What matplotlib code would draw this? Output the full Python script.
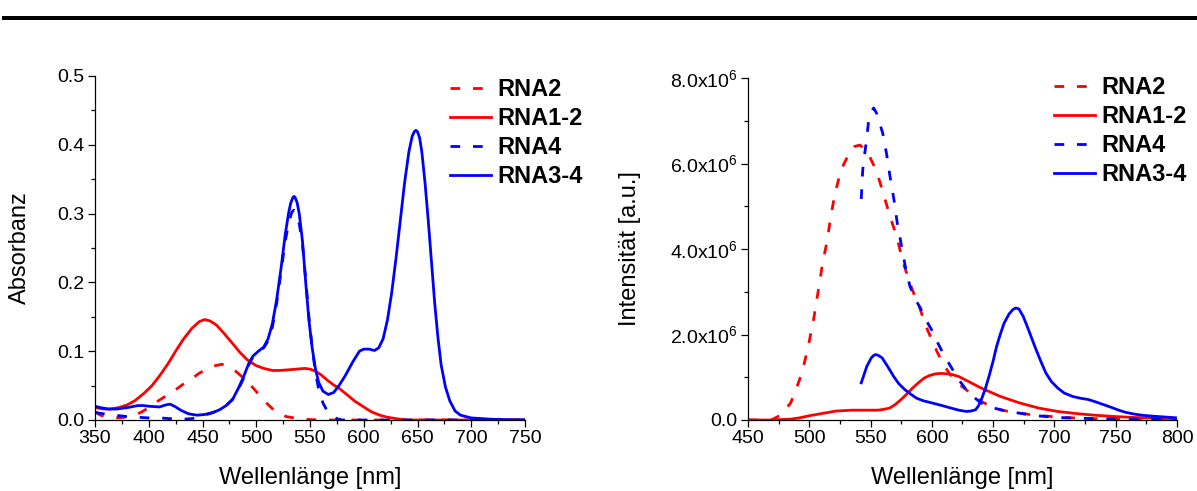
import numpy as np
import matplotlib
matplotlib.use("Agg")
import matplotlib.pyplot as plt
from matplotlib.patches import Rectangle
from matplotlib.ticker import MultipleLocator, FuncFormatter

plt.rcParams["font.family"] = ["Liberation Sans", "DejaVu Sans"]

RED = "#FF0000"
BLUE = "#0000FF"

# ---------------- absorption spectra ----------------
abs_rna2_wl = [350, 355, 362, 372, 382, 390, 396, 402, 410, 418, 425, 432, 440, 447, 455,
               462, 468, 474, 480, 486, 492, 498, 504, 510, 516, 522, 528, 535, 545, 560, 750]
abs_rna2 = [0.012, 0.007, 0.004, 0.003, 0.005, 0.009, 0.014, 0.021, 0.029, 0.037, 0.044,
            0.052, 0.060, 0.068, 0.075, 0.079, 0.081, 0.078, 0.072, 0.064, 0.055, 0.045,
            0.034, 0.024, 0.015, 0.009, 0.005, 0.003, 0.001, 0.000, 0.000]

abs_rna12_wl = [350, 358, 365, 372, 380, 387, 395, 403, 410, 418, 425, 432, 440, 447, 452,
                457, 463, 470, 477, 485, 492, 500, 507, 515, 522, 530, 538, 545, 550, 555,
                560, 566, 572, 578, 585, 592, 600, 607, 615, 622, 630, 640, 750]
abs_rna12 = [0.018, 0.016, 0.016, 0.018, 0.022, 0.028, 0.038, 0.050, 0.064, 0.082, 0.100,
             0.117, 0.133, 0.143, 0.146, 0.144, 0.138, 0.126, 0.113, 0.098, 0.087, 0.079,
             0.075, 0.072, 0.072, 0.073, 0.074, 0.075, 0.074, 0.071, 0.066, 0.058, 0.051,
             0.045, 0.036, 0.027, 0.019, 0.012, 0.007, 0.004, 0.002, 0.000, 0.000]

abs_rna4_wl = [350, 358, 368, 380, 390, 400, 410, 420, 430, 440, 450, 460, 466, 472, 478,
               483, 488, 493, 497, 502, 507, 511, 515, 519, 523, 527, 530, 533, 535, 537,
               540, 543, 546, 549, 552, 555, 558, 562, 566, 570, 575, 580, 750]
abs_rna4 = [0.011, 0.009, 0.007, 0.005, 0.004, 0.003, 0.003, 0.002, 0.001, 0.002, 0.006,
            0.011, 0.015, 0.021, 0.030, 0.043, 0.060, 0.080, 0.092, 0.100, 0.105, 0.115,
            0.135, 0.170, 0.215, 0.260, 0.285, 0.302, 0.305, 0.300, 0.285, 0.255, 0.205,
            0.150, 0.105, 0.070, 0.045, 0.025, 0.013, 0.007, 0.002, 0.000, 0.000]

abs_rna34_wl = [350, 355, 362, 370, 380, 390, 395, 400, 410, 416, 420, 425, 430, 437, 445,
                452, 460, 466, 472, 478, 483, 488, 493, 497, 502, 507, 511, 515, 519, 523,
                527, 530, 532, 534, 535, 536, 538, 540, 543, 546, 549, 552, 555, 558, 562,
                567, 572, 577, 583, 590, 596, 600, 605, 610, 614, 618, 622, 626, 630, 634,
                638, 642, 645, 647, 648.5, 650, 652, 654, 657, 660, 663, 666, 669, 672, 676,
                680, 685, 690, 700, 720, 750]
abs_rna34 = [0.020, 0.018, 0.016, 0.016, 0.018, 0.021, 0.021, 0.020, 0.019, 0.022, 0.023,
             0.019, 0.014, 0.009, 0.007, 0.008, 0.011, 0.015, 0.021, 0.030, 0.045, 0.062,
             0.082, 0.093, 0.100, 0.106, 0.118, 0.140, 0.175, 0.220, 0.270, 0.300, 0.315,
             0.323, 0.325, 0.324, 0.316, 0.300, 0.260, 0.200, 0.145, 0.105, 0.075, 0.055,
             0.042, 0.037, 0.040, 0.050, 0.065, 0.085, 0.100, 0.103, 0.103, 0.101, 0.105,
             0.118, 0.145, 0.185, 0.235, 0.290, 0.345, 0.390, 0.412, 0.419, 0.421, 0.419,
             0.410, 0.390, 0.345, 0.290, 0.230, 0.170, 0.120, 0.080, 0.048, 0.028, 0.013,
             0.007, 0.003, 0.001, 0.000]

# ---------------- emission spectra (in units of 10^6) ----------------
em_rna2_wl = [450, 469, 477, 484.8, 489, 494, 499, 503.5, 507.4, 510.9, 514.7, 517.5, 521,
              525.9, 533.2, 537, 541.4, 547.3, 555, 560.4, 565.9, 571.3, 576.7, 583.6,
              590.6, 595, 600, 604.5, 609, 614, 618.6, 623, 628, 634, 640, 648, 656, 664,
              671.5, 685, 702.6, 718, 733.7, 760, 800]
em_rna2 = [0.0, 0.0, 0.12, 0.40, 0.70, 1.10, 1.70, 2.35, 3.04, 3.67, 4.21, 4.76, 5.30,
           5.85, 6.28, 6.40, 6.43, 6.28, 5.81, 5.30, 4.76, 4.29, 3.67, 3.08, 2.58, 2.20,
           1.88, 1.58, 1.33, 1.10, 0.94, 0.82, 0.71, 0.56, 0.44, 0.32, 0.24, 0.19, 0.16,
           0.11, 0.07, 0.045, 0.03, 0.02, 0.01]

em_rna12_wl = [450, 469, 484.8, 492, 500, 508, 516, 522, 528.4, 535, 541, 548, 556, 561,
               565.7, 570, 575, 580, 584.4, 589, 593.7, 598, 603, 608, 612.4, 617, 621.7,
               630, 640, 656, 671.5, 687, 702.6, 718, 733.7, 750, 764.8, 780, 800]
em_rna12 = [0.0, 0.0, 0.02, 0.05, 0.10, 0.14, 0.18, 0.21, 0.22, 0.23, 0.23, 0.23, 0.23,
            0.25, 0.28, 0.36, 0.48, 0.62, 0.75, 0.87, 0.98, 1.04, 1.08, 1.09, 1.08, 1.06,
            1.02, 0.90, 0.75, 0.55, 0.40, 0.28, 0.20, 0.15, 0.11, 0.08, 0.06, 0.045, 0.03]

em_rna4_wl = [542.4, 543.6, 546.3, 548.2, 550.5, 552.5, 555, 559.9, 563.2, 565.9, 569.1,
              571.8, 575.4, 578.9, 582.2, 587, 590.6, 595, 600, 604.5, 609, 614, 618.6,
              623, 628, 634, 640, 648, 656, 664, 671.5, 685, 702.6, 720, 740, 760, 780, 800]
em_rna4 = [5.17, 5.85, 6.47, 6.94, 7.20, 7.30, 7.17, 6.71, 6.20, 5.69, 5.15, 4.60, 4.05,
           3.51, 3.12, 2.80, 2.62, 2.35, 2.10, 1.82, 1.57, 1.32, 1.10, 0.90, 0.71, 0.54,
           0.40, 0.30, 0.24, 0.19, 0.16, 0.10, 0.06, 0.04, 0.03, 0.025, 0.02, 0.02]

em_rna34_wl = [542.4, 547, 550.5, 552.5, 554, 555.5, 557, 559.5, 564, 568.8, 573, 578, 583,
               587.5, 593, 600, 608, 615.5, 622, 628, 632, 635.7, 638, 640.4, 643.5, 646.6,
               650, 652.8, 656, 659, 663, 666, 668.4, 671, 674.6, 679, 684, 688.5, 693,
               697.5, 702.6, 708, 715, 721, 727.5, 733, 740, 746, 752.4, 758, 764.8, 772,
               780, 790, 800]
em_rna34 = [0.87, 1.26, 1.45, 1.51, 1.53, 1.52, 1.50, 1.45, 1.25, 1.02, 0.85, 0.71, 0.60,
            0.51, 0.45, 0.40, 0.34, 0.28, 0.23, 0.20, 0.21, 0.24, 0.33, 0.48, 0.72, 1.02,
            1.38, 1.72, 2.02, 2.27, 2.48, 2.58, 2.62, 2.60, 2.42, 2.10, 1.72, 1.40, 1.10,
            0.90, 0.75, 0.63, 0.55, 0.51, 0.48, 0.43, 0.36, 0.30, 0.23, 0.18, 0.14, 0.11,
            0.09, 0.07, 0.05]

labels = ["RNA2", "RNA1-2", "RNA4", "RNA3-4"]

W, H = 1197, 491
fig = plt.figure(figsize=(W / 100, H / 100), dpi=100)

# horizontal rule across the top of the page
fig.add_artist(Rectangle((0.002, 1 - 20 / H), 0.998, 4 / H, transform=fig.transFigure,
                         color="black", lw=0))

ax1 = fig.add_axes([95 / W, (H - 420) / H, 430 / W, 344 / H])
ax2 = fig.add_axes([748 / W, (H - 420) / H, 429 / W, 342 / H])

dash = (0, (3.5, 4.6))
lw = 2.0


def style(ax):
    for side in ("top", "right"):
        ax.spines[side].set_visible(False)
    for side in ("left", "bottom"):
        ax.spines[side].set_linewidth(0.9)
    ax.tick_params(which="major", direction="out", length=5, width=0.9, labelsize=14,
                   pad=2.5, color="black")
    ax.tick_params(which="minor", direction="out", length=3, width=0.9)


def add_legend(ax, handles, x, y):
    ax.legend(handles, labels, loc="upper left", bbox_to_anchor=(x / W, 1 - y / H),
              bbox_transform=fig.transFigure, frameon=False, borderpad=0,
              borderaxespad=0, handlelength=1.75, handletextpad=0.27, labelspacing=0.26,
              prop={"weight": "bold", "size": 17})


# left panel: absorbance
h1 = ax1.plot(abs_rna2_wl, abs_rna2, color=RED, lw=lw, ls=dash)
h2 = ax1.plot(abs_rna12_wl, abs_rna12, color=RED, lw=lw)
h3 = ax1.plot(abs_rna4_wl, abs_rna4, color=BLUE, lw=lw, ls=dash)
h4 = ax1.plot(abs_rna34_wl, abs_rna34, color=BLUE, lw=lw)
ax1.set_xlim(350, 750)
ax1.set_ylim(0, 0.5)
ax1.xaxis.set_major_locator(MultipleLocator(50))
ax1.xaxis.set_minor_locator(MultipleLocator(25))
ax1.yaxis.set_major_locator(MultipleLocator(0.1))
ax1.yaxis.set_minor_locator(MultipleLocator(0.05))
ax1.yaxis.set_major_formatter(FuncFormatter(lambda v, p: f"{v:.1f}"))
style(ax1)
ax1.set_xlabel("Wellenlänge [nm]", fontsize=17)
ax1.set_ylabel("Absorbanz", fontsize=17)
ax1.xaxis.set_label_coords(0.5, -58 / 344)
ax1.xaxis.label.set_va("center")
ax1.yaxis.set_label_coords(-75 / 430, 0.5)
ax1.yaxis.label.set_va("center")
add_legend(ax1, [h1[0], h2[0], h3[0], h4[0]], 450, 78)

# right panel: emission intensity
scale = 1e6
g1 = ax2.plot(em_rna2_wl, np.array(em_rna2) * scale, color=RED, lw=lw, ls=dash)
g2 = ax2.plot(em_rna12_wl, np.array(em_rna12) * scale, color=RED, lw=lw)
g3 = ax2.plot(em_rna4_wl, np.array(em_rna4) * scale, color=BLUE, lw=lw, ls=dash)
g4 = ax2.plot(em_rna34_wl, np.array(em_rna34) * scale, color=BLUE, lw=lw)
ax2.set_xlim(450, 800)
ax2.set_ylim(0, 8e6)
ax2.xaxis.set_major_locator(MultipleLocator(50))
ax2.xaxis.set_minor_locator(MultipleLocator(25))
ax2.yaxis.set_major_locator(MultipleLocator(2e6))
ax2.yaxis.set_minor_locator(MultipleLocator(1e6))


def sci(v, p):
    if abs(v) < 1:
        return "0.0"
    return r"$\mathregular{%.1fx10^{6}}$" % (v / 1e6)


ax2.yaxis.set_major_formatter(FuncFormatter(sci))
style(ax2)
ax2.set_xlabel("Wellenlänge [nm]", fontsize=17)
ax2.set_ylabel("Intensität [a.u.]", fontsize=17)
ax2.xaxis.set_label_coords(0.5, -58 / 342)
ax2.xaxis.label.set_va("center")
ax2.yaxis.set_label_coords(-118 / 429, 0.5)
ax2.yaxis.label.set_va("center")
add_legend(ax2, [g1[0], g2[0], g3[0], g4[0]], 1054, 76)

fig.savefig("out.png", dpi=100)
